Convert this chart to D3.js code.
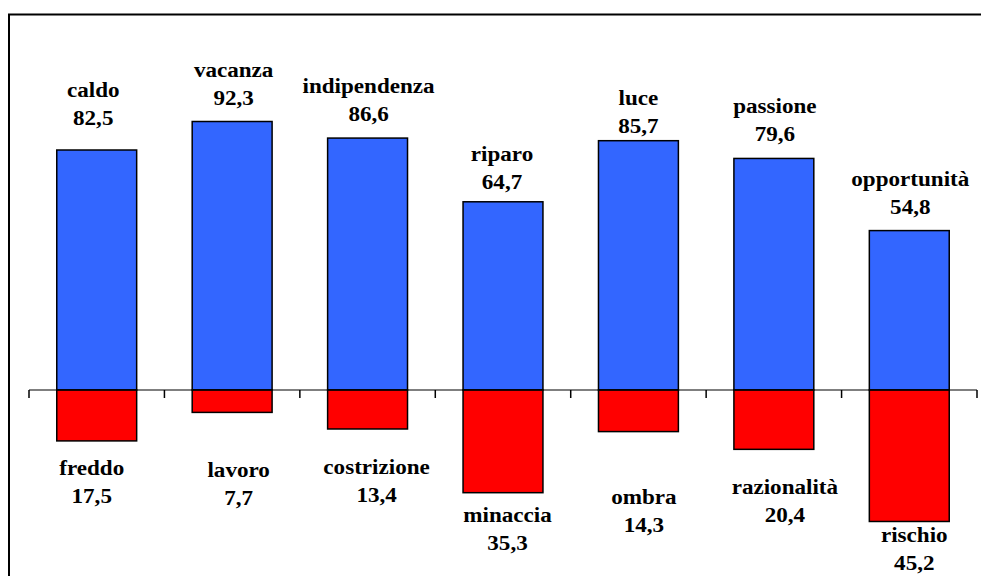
<!DOCTYPE html>
<html>
<head>
<meta charset="utf-8">
<script src="https://cdn.jsdelivr.net/npm/d3@7/dist/d3.min.js"></script>
<style>
  html, body { margin: 0; padding: 0; background: #ffffff; }
  svg { display: block; }
</style>
</head>
<body>
<script>
// Word pairs: positive association (above the axis) vs negative (below)
const positiveTerms = ["caldo", "vacanza", "indipendenza", "riparo", "luce", "passione", "opportunità"];
const positiveValues = [82.5, 92.3, 86.6, 64.7, 85.7, 79.6, 54.8];
const negativeTerms = ["freddo", "lavoro", "costrizione", "minaccia", "ombra", "razionalità", "rischio"];
const negativeValues = [17.5, 7.7, 13.4, 35.3, 14.3, 20.4, 45.2];

// Hand-placed label nudges (pixels): gap between bar end and value line, horizontal shift
const posGap = [25, 16, 16.6, 12.3, 7.7, 17.3, 16.7];
const posDx = [-3.5, 1.5, 1, -1, 0, 1, 1];
const negGap = [62, 92.6, 73.3, 57.3, 100.7, 73, 48.5];
const negDx = [-5, 6.5, 9, 4.5, 5.5, 11, 5];

const W = 981, H = 576;
const FONT = "'Liberation Serif', 'Times New Roman', Tinos, 'DejaVu Serif', serif";
const fmt = d3.formatLocale({ decimal: ",", thousands: ".", grouping: [3], currency: ["", "€"] }).format(".1f");

const svg = d3.select("body").append("svg").attr("width", W).attr("height", H);

// Outer frame (runs off the right and bottom edges)
svg.append("rect")
  .attr("x", 9).attr("y", 14.5)
  .attr("width", 1000).attr("height", 700)
  .attr("fill", "none").attr("stroke", "#000").attr("stroke-width", 2);

const x = d3.scaleBand()
  .domain(d3.range(positiveTerms.length))
  .range([29, 977])
  .paddingInner(0.41)
  .paddingOuter(0.205);

const k = 2.909;
const y = d3.scaleLinear().domain([-60, 100]).range([390 + 60 * k, 390 - 100 * k]);

const idx = d3.range(positiveTerms.length);

// Positive bars
svg.append("g").selectAll("rect").data(idx).join("rect")
  .attr("x", i => x(i))
  .attr("y", i => y(positiveValues[i]))
  .attr("width", x.bandwidth())
  .attr("height", i => y(0) - y(positiveValues[i]))
  .attr("fill", "#3366FF")
  .attr("stroke", "#000").attr("stroke-width", 1.5);

// Negative bars
svg.append("g").selectAll("rect").data(idx).join("rect")
  .attr("x", i => x(i))
  .attr("y", y(0))
  .attr("width", x.bandwidth())
  .attr("height", i => y(-negativeValues[i]) - y(0))
  .attr("fill", "#FF0000")
  .attr("stroke", "#000").attr("stroke-width", 1.5);

// Category axis with boundary ticks hanging below
const axis = svg.append("g");
const [r0, r1] = x.range();
axis.append("line")
  .attr("x1", r0).attr("x2", r1)
  .attr("y1", y(0)).attr("y2", y(0))
  .attr("stroke", "#000").attr("stroke-width", 1.2);
axis.selectAll("line.tick").data(d3.range(positiveTerms.length + 1)).join("line")
  .attr("class", "tick")
  .attr("x1", i => r0 + i * x.step()).attr("x2", i => r0 + i * x.step())
  .attr("y1", y(0)).attr("y2", y(0) + 8)
  .attr("stroke", "#000").attr("stroke-width", 1.5);

const fs = 21, stretch = 1.1, lineGap = 28;

function label(g, cx, baseY, str) {
  g.append("text")
    .attr("transform", `translate(${cx},${baseY}) scale(${stretch},1)`)
    .attr("text-anchor", "middle")
    .attr("font-family", FONT)
    .attr("font-weight", "bold")
    .attr("font-size", fs)
    .attr("fill", "#000")
    .text(str);
}

const labels = svg.append("g");
idx.forEach(i => {
  const cx = x(i) + x.bandwidth() / 2;
  const vy = y(positiveValues[i]) - posGap[i];
  label(labels, cx + posDx[i], vy - lineGap, positiveTerms[i]);
  label(labels, cx + posDx[i], vy, fmt(positiveValues[i]));

  const ny = y(-negativeValues[i]) + negGap[i];
  label(labels, cx + negDx[i], ny - lineGap, negativeTerms[i]);
  label(labels, cx + negDx[i], ny, fmt(negativeValues[i]));
});
</script>
</body>
</html>
